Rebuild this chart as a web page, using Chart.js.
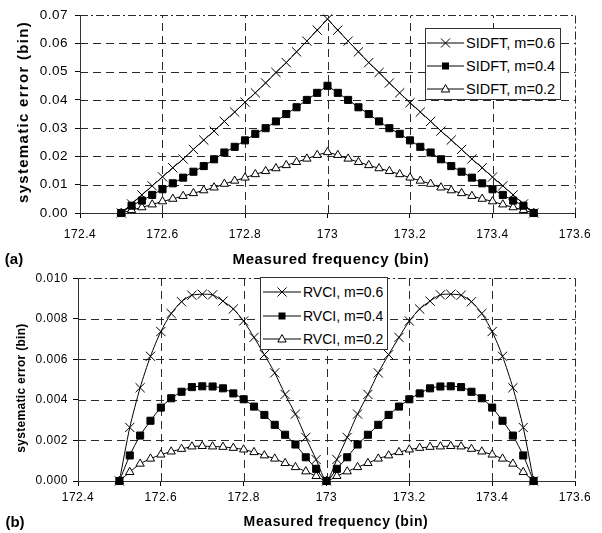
<!DOCTYPE html>
<html>
<head>
<meta charset="utf-8">
<script src="https://cdn.jsdelivr.net/npm/chart.js@4.4.1/dist/chart.umd.min.js"></script>
<style>
  body { margin: 0; background: #fff; font-family: "Liberation Sans", Arial, sans-serif; }
  #fig { position: relative; width: 602px; height: 533px; overflow: hidden; background: #fff; }
  .panel { position: absolute; left: 0; width: 602px; }
  .txt { position: absolute; font-weight: bold; color: #000; white-space: nowrap; transform: translate(-50%, -50%); }
  .legend { position: absolute; background: #fff; border: 1px solid #333; box-sizing: border-box; }
  .legend .row { position: absolute; left: 0; height: 20px; display: flex; align-items: center; white-space: nowrap; color: #000; }
</style>
</head>
<body>
<div id="fig">
  <div class="panel" style="top:0;height:266px"><canvas id="chartA" width="602" height="266"></canvas></div>
  <div class="panel" style="top:266px;height:267px"><canvas id="chartB" width="602" height="267"></canvas></div>

  <div class="txt" style="left:14px;top:258px;font-size:15px">(a)</div>
  <div class="txt" style="left:331px;top:258px;font-size:15px;letter-spacing:0.6px">Measured frequency (bin)</div>
  <div class="txt" style="left:22px;top:112px;font-size:15px;letter-spacing:1.3px;transform:translate(-50%,-50%) rotate(-90deg)">systematic error (bin)</div>

  <div class="txt" style="left:15px;top:521px;font-size:15px">(b)</div>
  <div class="txt" style="left:336px;top:521px;font-size:14px;letter-spacing:0.6px">Measured frequency (bin)</div>
  <div class="txt" style="left:21px;top:388px;font-size:12px;letter-spacing:0.3px;transform:translate(-50%,-50%) rotate(-90deg)">systematic error (bin)</div>

  <div id="legendA" class="legend" style="left:425px;top:28px;width:136px;height:72px"></div>
  <div id="legendB" class="legend" style="left:260px;top:277px;width:128px;height:73px"></div>
</div>

<script>
// measured frequency (bin), same for every series
const freq = [
  172.5, 172.525, 172.55, 172.575, 172.6, 172.625, 172.65, 172.675, 172.7, 172.725,
  172.75, 172.775, 172.8, 172.825, 172.85, 172.875, 172.9, 172.925, 172.95, 172.975,
  173.0, 173.025, 173.05, 173.075, 173.1, 173.125, 173.15, 173.175, 173.2, 173.225,
  173.25, 173.275, 173.3, 173.325, 173.35, 173.375, 173.4, 173.425, 173.45, 173.475, 173.5
];

// (a) SIDFT
const sidft06 = [
  0, 0.0032, 0.0064, 0.0096, 0.0128, 0.0160, 0.0191, 0.0225, 0.0258, 0.0290,
  0.0324, 0.0357, 0.0392, 0.0425, 0.0460, 0.0497, 0.0532, 0.0570, 0.0608, 0.0647,
  0.0686,
  0.0647, 0.0608, 0.0570, 0.0532, 0.0497, 0.0460, 0.0425, 0.0390, 0.0357, 0.0324,
  0.0290, 0.0258, 0.0225, 0.0191, 0.0160, 0.0127, 0.0096, 0.0064, 0.0032, 0
];
const sidft04 = [
  0, 0.0026, 0.0044, 0.0064, 0.0084, 0.0105, 0.0125, 0.0146, 0.0166, 0.0190,
  0.0214, 0.0234, 0.0257, 0.0280, 0.0300, 0.0324, 0.0350, 0.0374, 0.0400, 0.0425,
  0.0450,
  0.0425, 0.0400, 0.0374, 0.0350, 0.0324, 0.0300, 0.0280, 0.0257, 0.0234, 0.0214,
  0.0190, 0.0166, 0.0146, 0.0125, 0.0105, 0.0084, 0.0064, 0.0044, 0.0026, 0
];
const sidft02 = [
  0, 0.0010, 0.0020, 0.0030, 0.0041, 0.0050, 0.0060, 0.0070, 0.0080, 0.0090,
  0.0103, 0.0114, 0.0125, 0.0137, 0.0148, 0.0158, 0.0169, 0.0180, 0.0192, 0.0205,
  0.0215,
  0.0205, 0.0192, 0.0180, 0.0169, 0.0158, 0.0148, 0.0137, 0.0125, 0.0114, 0.0103,
  0.0090, 0.0080, 0.0070, 0.0060, 0.0050, 0.0041, 0.0030, 0.0020, 0.0010, 0
];

// (b) RVCI
const rvci06 = [
  0, 0.00264, 0.00460, 0.00615, 0.00737, 0.00826, 0.00884, 0.00916, 0.00921, 0.00918,
  0.00887, 0.00848, 0.00789, 0.00708, 0.00623, 0.00533, 0.00427, 0.00330, 0.00215, 0.00106,
  0,
  0.00106, 0.00215, 0.00330, 0.00427, 0.00533, 0.00623, 0.00708, 0.00789, 0.00848, 0.00887,
  0.00918, 0.00921, 0.00916, 0.00884, 0.00826, 0.00737, 0.00615, 0.00460, 0.00264, 0
];
const rvci04 = [
  0, 0.00126, 0.00224, 0.00297, 0.00362, 0.00408, 0.00440, 0.00463, 0.00467, 0.00466,
  0.00457, 0.00432, 0.00403, 0.00367, 0.00326, 0.00277, 0.00228, 0.00180, 0.00117, 0.00060,
  0,
  0.00060, 0.00117, 0.00180, 0.00228, 0.00277, 0.00326, 0.00367, 0.00403, 0.00432, 0.00457,
  0.00466, 0.00467, 0.00463, 0.00440, 0.00408, 0.00362, 0.00297, 0.00224, 0.00126, 0
];
const rvci02 = [
  0, 0.00044, 0.00085, 0.00110, 0.00130, 0.00145, 0.00158, 0.00170, 0.00172, 0.00170,
  0.00168, 0.00163, 0.00155, 0.00142, 0.00126, 0.00110, 0.00088, 0.00068, 0.00047, 0.00024,
  0,
  0.00024, 0.00047, 0.00068, 0.00088, 0.00110, 0.00126, 0.00142, 0.00155, 0.00163, 0.00168,
  0.00170, 0.00172, 0.00170, 0.00158, 0.00145, 0.00130, 0.00110, 0.00085, 0.00044, 0
];

const labelsA = ["SIDFT, m=0.6", "SIDFT, m=0.4", "SIDFT, m=0.2"];
const labelsB = ["RVCI, m=0.6", "RVCI, m=0.4", "RVCI, m=0.2"];

const xTicks = ["172.4", "172.6", "172.8", "173", "173.2", "173.4", "173.6"];
const yTicksA = ["0.00", "0.01", "0.02", "0.03", "0.04", "0.05", "0.06", "0.07"];
const yTicksB = ["0.000", "0.002", "0.004", "0.006", "0.008", "0.010"];

const FONT = '"Liberation Sans", Arial, sans-serif';
const GRID = "#2a2a2a";
const markers = ["crossRot", "rect", "triangle"];

function points(values) {
  return values.map((v, i) => ({ x: freq[i], y: v }));
}

function dataset(label, values, style, tension) {
  const base = {
    label,
    data: points(values),
    borderColor: "#000",
    borderWidth: 1,
    tension,
    clip: false,
    pointStyle: style,
    pointBorderColor: "#000",
    pointBorderWidth: 1,
  };
  if (style === "crossRot") return { ...base, pointRadius: 6.5, backgroundColor: "#000" };
  if (style === "rect") return { ...base, pointRadius: 5, pointBackgroundColor: "#000", backgroundColor: "#000" };
  return { ...base, pointRadius: 4.8, pointBackgroundColor: "#fff", backgroundColor: "#fff" };
}

// stroke a straight line as explicit segments following a repeating pattern
function patternLine(ctx, x1, y1, x2, y2, pattern) {
  const len = Math.hypot(x2 - x1, y2 - y1);
  const ux = (x2 - x1) / len;
  const uy = (y2 - y1) / len;
  let pos = 0;
  let k = 0;
  ctx.beginPath();
  while (pos < len) {
    const seg = pattern[k % pattern.length];
    const end = Math.min(pos + seg, len);
    if (k % 2 === 0) {
      ctx.moveTo(x1 + ux * pos, y1 + uy * pos);
      ctx.lineTo(x1 + ux * end, y1 + uy * end);
    }
    pos = end;
    k++;
  }
  ctx.stroke();
}

// dashed grid at the scale ticks, dash-dot frame on top and right
const gridPlugin = {
  id: "dashGrid",
  beforeDatasetsDraw(chart) {
    const { ctx, chartArea: a, scales } = chart;
    const top = Math.round(a.top) + 0.5;
    const right = Math.round(a.right) + 0.5;
    const bottom = Math.round(a.bottom);
    ctx.save();
    ctx.strokeStyle = GRID;
    ctx.lineWidth = 1;
    const xt = scales.x.ticks;
    xt.forEach((t, i) => {
      if (i === 0 || i === xt.length - 1) return;
      const px = Math.round(scales.x.getPixelForValue(t.value)) + 0.5;
      patternLine(ctx, px, bottom, px, top, [8, 5]);
    });
    const yt = scales.y.ticks;
    yt.forEach((t, i) => {
      if (i === 0 || i === yt.length - 1) return;
      const py = Math.round(scales.y.getPixelForValue(t.value)) + 0.5;
      patternLine(ctx, Math.round(a.left), py, right, py, [8, 5]);
    });
    patternLine(ctx, Math.round(a.left), top, right, top, [8, 3, 2, 3]);
    patternLine(ctx, right, top, right, bottom, [8, 3, 2, 3]);
    ctx.restore();
  },
};

const spacingPlugin = {
  id: "spacing",
  beforeLayout(chart) { chart.ctx.letterSpacing = "0.5px"; },
  beforeDraw(chart) { chart.ctx.letterSpacing = "0.5px"; },
};

function makeChart(id, cfg) {
  return new Chart(document.getElementById(id), {
    type: "line",
    data: {
      datasets: cfg.series.map((s, i) => dataset(cfg.labels[i], s, markers[i], cfg.tension)),
    },
    options: {
      responsive: false,
      animation: false,
      layout: { padding: { top: cfg.top, right: 27, bottom: 0, left: 0 } },
      plugins: { legend: { display: false }, tooltip: { enabled: false } },
      scales: {
        x: {
          type: "linear",
          min: 172.4,
          max: 173.6,
          ticks: {
            stepSize: 0.2,
            padding: cfg.xPad,
            color: "#000",
            font: { family: FONT, size: 12 },
            maxRotation: 0,
            callback: (v, i) => xTicks[i],
          },
          grid: { drawOnChartArea: false, color: "#000", tickColor: "#000", tickLength: 5 },
          border: { color: "#333", width: 1 },
          afterFit: (s) => { s.height = cfg.xHeight; },
        },
        y: {
          min: 0,
          max: cfg.yMax,
          ticks: {
            stepSize: cfg.yStep,
            padding: cfg.yPad,
            color: "#000",
            font: { family: FONT, size: cfg.yFont },
            callback: (v, i) => cfg.yTicks[i],
          },
          grid: { drawOnChartArea: false, color: "#000", tickColor: "#000", tickLength: 5 },
          border: { color: "#333", width: 1 },
          afterFit: (s) => { s.width = cfg.yWidth; },
        },
      },
    },
    plugins: [gridPlugin, spacingPlugin],
  });
}

function markerSvg(style, cx, cy) {
  if (style === "crossRot") {
    return `<line x1="${cx - 4.5}" y1="${cy - 4.5}" x2="${cx + 4.5}" y2="${cy + 4.5}" stroke="#000"/>` +
      `<line x1="${cx - 4.5}" y1="${cy + 4.5}" x2="${cx + 4.5}" y2="${cy - 4.5}" stroke="#000"/>`;
  }
  if (style === "rect") {
    return `<rect x="${cx - 3.5}" y="${cy - 3.5}" width="7" height="7" fill="#000"/>`;
  }
  return `<polygon points="${cx},${cy - 4.5} ${cx + 4.2},${cy + 3} ${cx - 4.2},${cy + 3}" fill="#fff" stroke="#000"/>`;
}

function buildLegend(id, labels, opts) {
  const box = document.getElementById(id);
  labels.forEach((label, i) => {
    const row = document.createElement("div");
    row.className = "row";
    row.style.top = `${opts.rows[i] - 10}px`;
    row.style.left = `${opts.lineStart}px`;
    const w = opts.lineLen;
    row.innerHTML =
      `<svg width="${w}" height="14" style="flex:none">` +
      `<line x1="0" y1="7" x2="${w}" y2="7" stroke="#000" stroke-width="1"/>` +
      markerSvg(markers[i], w / 2, 7) +
      `</svg>` +
      `<span style="margin-left:2px;font-size:${opts.font}px">${label}</span>`;
    box.appendChild(row);
  });
}

makeChart("chartA", {
  series: [sidft06, sidft04, sidft02],
  labels: labelsA,
  yTicks: yTicksA,
  yMax: 0.07,
  yStep: 0.01,
  yFont: 13.5,
  yPad: 7,
  yWidth: 80,
  xPad: 9,
  xHeight: 53,
  top: 14,
  tension: 0,
});

makeChart("chartB", {
  series: [rvci06, rvci04, rvci02],
  labels: labelsB,
  yTicks: yTicksB,
  yMax: 0.01,
  yStep: 0.002,
  yFont: 12,
  yPad: 5,
  yWidth: 78,
  xPad: 4,
  xHeight: 52,
  top: 10,
  tension: 0.25,
});

buildLegend("legendA", labelsA, { rows: [14, 37, 60], lineStart: 1, lineLen: 37, font: 14.5 });
buildLegend("legendB", labelsB, { rows: [14, 37.5, 61], lineStart: 2, lineLen: 38, font: 14 });
</script>
</body>
</html>
